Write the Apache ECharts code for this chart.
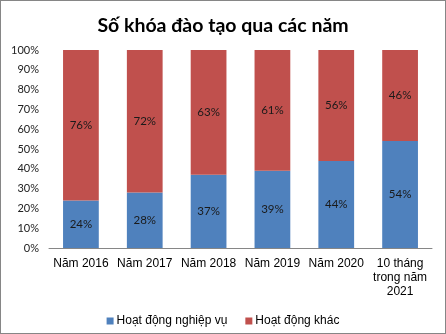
<!DOCTYPE html>
<html><head><meta charset="utf-8">
<script src="https://cdn.jsdelivr.net/npm/echarts@6/dist/echarts.min.js"></script>
<style>html,body{margin:0;padding:0;background:#fff}#c{width:446px;height:334px;box-sizing:border-box;border:1px solid #868686}</style>
</head><body><div id="c"></div>
<script>
const categories = ["Năm 2016","Năm 2017","Năm 2018","Năm 2019","Năm 2020","10 tháng\ntrong năm\n2021"];
const seriesNames = ["Hoạt động nghiệp vụ","Hoạt động khác"];
const nghiepVu = [24,28,37,39,44,54];
const khac = [76,72,63,61,56,46];
const yTicks = [0,10,20,30,40,50,60,70,80,90,100];

const chart = echarts.init(document.getElementById('c'), null, {renderer:'canvas'});
const lbl = {show:true, position:'inside', formatter: p => p.value + '%', color:'#1a1a1a', fontFamily:'Lato', fontSize:11.5};
chart.setOption({
  animation:false,
  title:{text:'Số khóa đào tạo qua các năm', left:'center', top:10, textStyle:{fontFamily:'Lato', fontWeight:'bold', fontSize:19.5, color:'#000'}},
  legend:{top:309, left:'center', itemWidth:7, itemHeight:7, itemGap:18, icon:'rect', textStyle:{fontFamily:'Liberation Sans', fontSize:12, color:'#000', padding:[0,0,0,-2]}, data:seriesNames},
  grid:{left:48, right:13, top:49, bottom:85},
  xAxis:{type:'category', data:categories, axisTick:{show:false}, axisLine:{lineStyle:{color:'#868686'}}, axisLabel:{fontFamily:'Liberation Sans', fontSize:12, color:'#000', interval:0, margin:9, lineHeight:14}},
  yAxis:{type:'value', min:0, max:100, interval:10, axisLine:{show:false}, axisTick:{show:false}, splitLine:{show:false}, axisLabel:{formatter: v => yTicks.includes(v) ? v + '%' : '', fontFamily:'Lato', fontSize:11, color:'#222', margin:10}},
  series:[
    {name:seriesNames[0], type:'bar', stack:'a', data:nghiepVu, barCategoryGap:'44%', itemStyle:{color:'#4F81BD'}, label:lbl},
    {name:seriesNames[1], type:'bar', stack:'a', data:khac, barCategoryGap:'44%', itemStyle:{color:'#C0504D'}, label:lbl}
  ]
});
</script></body></html>
